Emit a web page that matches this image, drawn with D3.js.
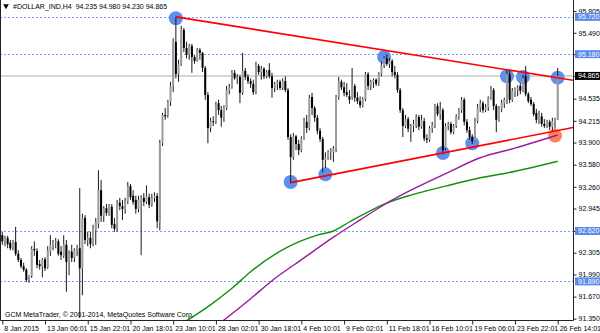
<!DOCTYPE html>
<html>
<head>
<meta charset="utf-8">
<script src="https://cdn.jsdelivr.net/npm/d3@7"></script>
<style>
  html, body { margin: 0; padding: 0; background: #fff; }
  #chart { width: 600px; height: 333px; }
  text { font-family: 'Liberation Sans', Arial, sans-serif; }
</style>
</head>
<body>
<div id="chart"></div>
<script>
'use strict';

const symbolTitle = '#DOLLAR_IND,H4  94.235 94.980 94.230 94.865';
const copyright = 'GCM MetaTrader, \u00a9 2001-2014, MetaQuotes Software Corp.';

// one label every 16 bars
const timeLabels = ['8 Jan 2015', '13 Jan 06:01', '15 Jan 22:01', '20 Jan 18:01',
  '23 Jan 10:01', '28 Jan 02:01', '30 Jan 18:01', '4 Feb 10:01', '9 Feb 02:01',
  '11 Feb 18:01', '16 Feb 10:01', '19 Feb 06:01', '23 Feb 22:01', '26 Feb 14:01'];
const labelStep = 16;

const priceTicks = [95.805, 95.490, 95.180, 94.865, 94.535, 94.215, 93.900, 93.580,
  93.260, 92.945, 92.620, 92.305, 91.990, 91.670, 91.350];

// open, high, low, close
const ohlc = [
  [92.56, 92.61, 92.42, 92.47], [92.47, 92.55, 92.40, 92.52], [92.52, 92.55, 92.37, 92.43],
  [92.45, 92.49, 92.34, 92.37], [92.37, 92.49, 92.34, 92.46], [92.46, 92.68, 92.26, 92.29],
  [92.29, 92.34, 92.17, 92.20], [92.20, 92.23, 92.08, 92.11], [92.11, 92.16, 92.03, 92.06],
  [92.06, 92.08, 91.88, 91.91], [91.91, 91.98, 91.87, 91.97], [91.97, 92.40, 91.94, 92.36],
  [92.36, 92.47, 92.26, 92.34], [92.33, 92.37, 92.08, 92.13], [92.14, 92.20, 92.06, 92.11],
  [92.11, 92.23, 91.95, 92.21], [92.21, 92.24, 92.04, 92.08], [92.09, 92.40, 92.07, 92.34],
  [92.32, 92.56, 92.26, 92.42], [92.42, 92.49, 92.34, 92.46], [92.45, 92.52, 92.37, 92.47],
  [92.47, 92.50, 92.26, 92.29], [92.32, 92.40, 92.20, 92.27], [92.26, 92.56, 92.23, 92.43],
  [92.42, 92.49, 91.74, 92.17], [92.17, 92.34, 91.98, 92.29], [92.32, 92.42, 92.17, 92.23],
  [92.23, 92.37, 92.17, 92.34], [92.34, 92.42, 92.26, 92.37], [92.37, 93.24, 91.36, 92.08],
  [92.08, 92.87, 91.69, 92.81], [92.81, 92.85, 92.43, 92.49], [92.49, 92.61, 92.40, 92.52],
  [92.52, 92.61, 92.37, 92.43], [92.43, 92.71, 92.40, 92.66], [92.63, 92.81, 92.42, 92.75],
  [92.72, 93.50, 92.66, 93.21], [93.21, 93.36, 92.75, 92.84], [92.84, 92.98, 92.75, 92.95],
  [92.95, 93.01, 92.84, 92.88], [92.88, 93.01, 92.84, 92.98], [92.97, 93.01, 92.66, 92.71],
  [92.72, 92.81, 92.61, 92.65], [92.66, 93.07, 92.61, 93.03], [93.03, 93.10, 92.92, 92.98],
  [92.98, 93.07, 92.78, 92.94], [92.94, 93.10, 92.87, 93.05], [93.05, 93.33, 93.01, 93.27],
  [93.27, 93.30, 93.07, 93.11], [93.13, 93.21, 93.00, 93.04], [93.07, 93.13, 92.87, 92.94],
  [92.94, 93.13, 92.89, 93.07], [93.03, 93.14, 92.27, 93.10], [93.10, 93.17, 92.98, 93.04],
  [93.04, 93.28, 93.01, 93.13], [93.11, 93.16, 92.95, 93.00], [93.00, 93.16, 92.97, 93.10],
  [93.10, 93.18, 93.04, 93.13], [93.13, 93.17, 92.66, 92.76], [92.75, 93.94, 92.63, 93.89],
  [93.89, 94.33, 93.85, 94.30], [94.30, 94.40, 94.23, 94.28], [94.30, 94.52, 94.26, 94.49],
  [94.49, 94.78, 94.43, 94.72], [94.72, 95.41, 94.63, 95.36], [95.36, 95.72, 94.83, 94.89],
  [94.89, 95.10, 94.78, 95.04], [95.04, 95.59, 95.01, 95.53], [95.53, 95.56, 95.21, 95.27],
  [95.27, 95.36, 95.12, 95.17], [95.17, 95.33, 95.10, 95.30], [95.30, 95.33, 94.91, 95.14],
  [95.14, 95.17, 95.04, 95.08], [95.08, 95.27, 95.07, 95.24], [95.24, 95.27, 95.10, 95.20],
  [95.20, 95.21, 94.92, 94.98], [94.98, 95.01, 94.52, 94.59], [94.59, 94.63, 93.89, 94.11],
  [94.11, 94.26, 94.05, 94.21], [94.21, 94.28, 94.14, 94.20], [94.20, 94.49, 94.17, 94.44],
  [94.47, 94.52, 94.30, 94.37], [94.37, 94.43, 94.13, 94.26], [94.26, 94.44, 94.20, 94.40],
  [94.40, 94.72, 94.37, 94.66], [94.66, 94.75, 94.60, 94.70], [94.70, 94.95, 94.68, 94.91],
  [94.91, 94.95, 94.81, 94.83], [94.83, 94.89, 94.75, 94.85], [94.85, 94.88, 94.47, 94.62],
  [94.62, 95.20, 94.59, 94.94], [94.94, 94.98, 94.81, 94.85], [94.85, 94.89, 94.75, 94.79],
  [94.79, 94.83, 94.69, 94.75], [94.75, 94.81, 94.59, 94.63], [94.63, 95.07, 94.60, 95.01],
  [95.01, 95.04, 94.88, 94.92], [94.92, 95.01, 94.81, 94.97], [94.97, 94.99, 94.82, 94.86],
  [94.86, 94.95, 94.83, 94.92], [94.95, 95.05, 94.83, 94.86], [94.86, 94.91, 94.55, 94.69],
  [94.69, 94.78, 94.63, 94.75], [94.75, 94.81, 94.66, 94.78], [94.78, 94.81, 94.66, 94.69],
  [94.69, 94.83, 94.66, 94.79], [94.79, 94.86, 94.63, 94.66], [94.66, 94.69, 93.94, 93.98],
  [93.98, 94.02, 93.31, 93.69], [93.69, 94.04, 93.65, 93.99], [93.99, 94.01, 93.79, 93.88],
  [93.88, 93.94, 93.72, 93.79], [93.79, 93.99, 93.76, 93.96], [93.96, 94.26, 93.94, 94.20],
  [94.20, 94.30, 94.04, 94.11], [94.11, 94.59, 94.08, 94.55], [94.56, 94.62, 94.30, 94.40],
  [94.40, 94.43, 94.20, 94.26], [94.26, 94.30, 94.02, 94.07], [94.07, 94.11, 93.91, 93.95],
  [93.95, 93.98, 93.47, 93.65], [93.65, 93.76, 93.53, 93.69], [93.69, 93.79, 93.65, 93.76],
  [93.76, 93.82, 93.65, 93.79], [93.76, 93.85, 93.62, 93.81], [93.79, 94.59, 93.76, 94.56],
  [94.56, 94.85, 94.52, 94.78], [94.78, 94.81, 94.66, 94.70], [94.70, 94.78, 94.57, 94.62],
  [94.63, 94.76, 94.56, 94.59], [94.57, 94.66, 94.46, 94.52], [94.55, 94.98, 94.52, 94.73],
  [94.72, 94.75, 94.49, 94.55], [94.55, 94.63, 94.46, 94.50], [94.50, 94.57, 94.40, 94.44],
  [94.44, 94.56, 94.41, 94.53], [94.53, 94.92, 94.50, 94.89], [94.89, 94.92, 94.66, 94.72],
  [94.72, 94.81, 94.66, 94.78], [94.78, 94.83, 94.69, 94.81], [94.81, 94.83, 94.72, 94.75],
  [94.75, 94.92, 94.72, 94.89], [94.89, 95.07, 94.86, 95.02], [95.02, 95.15, 94.98, 95.12],
  [95.12, 95.18, 95.01, 95.04], [95.04, 95.12, 94.98, 95.08], [95.08, 95.11, 94.86, 94.92],
  [94.92, 95.01, 94.83, 94.88], [94.88, 94.92, 94.62, 94.66], [94.66, 94.69, 94.33, 94.37],
  [94.37, 94.40, 93.98, 94.14], [94.14, 94.30, 94.11, 94.24], [94.24, 94.27, 94.05, 94.10],
  [94.10, 94.17, 93.91, 94.14], [94.14, 94.23, 94.05, 94.17], [94.15, 94.31, 94.11, 94.27],
  [94.27, 94.30, 94.08, 94.13], [94.13, 94.30, 94.10, 94.23], [94.21, 94.26, 93.92, 93.96],
  [93.96, 94.02, 93.89, 93.94], [93.94, 94.14, 93.91, 94.11], [94.11, 94.20, 94.04, 94.15],
  [94.14, 94.46, 94.11, 94.43], [94.43, 94.47, 94.28, 94.31], [94.31, 94.49, 94.23, 94.37],
  [94.37, 94.40, 93.73, 93.79], [93.82, 94.18, 93.79, 94.14], [94.14, 94.20, 94.08, 94.17],
  [94.17, 94.20, 94.02, 94.05], [94.05, 94.17, 94.02, 94.14], [94.14, 94.31, 94.11, 94.28],
  [94.28, 94.40, 94.23, 94.37], [94.37, 94.56, 94.33, 94.52], [94.52, 94.55, 94.15, 94.20],
  [94.20, 94.24, 94.04, 94.08], [94.08, 94.13, 93.94, 93.98], [93.98, 94.02, 93.88, 93.92],
  [93.92, 94.26, 93.91, 94.21], [94.21, 94.46, 94.18, 94.41], [94.41, 94.52, 94.34, 94.47],
  [94.47, 94.50, 94.33, 94.37], [94.37, 94.46, 94.34, 94.41], [94.41, 94.57, 94.36, 94.55],
  [94.55, 94.72, 94.52, 94.66], [94.66, 94.69, 94.37, 94.43], [94.43, 94.46, 94.05, 94.23],
  [94.23, 94.43, 94.20, 94.39], [94.39, 94.52, 94.34, 94.47], [94.47, 94.55, 94.40, 94.52],
  [94.52, 94.95, 94.46, 94.89], [94.89, 94.95, 94.47, 94.52], [94.52, 94.69, 94.49, 94.65],
  [94.63, 94.70, 94.56, 94.68], [94.66, 94.73, 94.57, 94.70], [94.72, 94.76, 94.60, 94.65],
  [94.65, 94.88, 94.63, 94.83], [94.86, 95.01, 94.57, 94.60], [94.60, 94.63, 94.47, 94.50],
  [94.52, 94.56, 94.43, 94.46], [94.46, 94.49, 94.28, 94.31], [94.33, 94.39, 94.18, 94.23],
  [94.23, 94.36, 94.17, 94.31], [94.28, 94.33, 94.13, 94.17], [94.17, 94.24, 94.11, 94.14],
  [94.14, 94.23, 94.11, 94.20], [94.20, 94.23, 94.08, 94.13], [94.13, 94.26, 94.07, 94.21],
  [94.20, 94.26, 94.10, 94.23], [94.235, 94.98, 94.23, 94.865]
];

// dotted horizontal levels and the last bid
const levelLines = [95.720, 95.180, 92.620, 91.890];
const lastPrice = 94.865;

// moving averages: [bar, value]
const maPurple = [[80, 91.24], [93, 91.64], [101, 91.90], [113, 92.23], [124, 92.53],
  [134, 92.78], [143, 93.00], [153, 93.21], [166, 93.45], [179, 93.68], [192, 93.82], [208, 94.01]];
const maGreen = [[67, 91.27], [79, 91.58], [86, 91.79], [93, 92.03], [107, 92.39], [118, 92.56],
  [124, 92.62], [130, 92.75], [143, 93.01], [153, 93.14], [166, 93.27], [179, 93.39],
  [189, 93.46], [208, 93.63]];

// triangle sides: [bar, price] pairs
const upperTrend = [[65, 95.72], [214, 94.80]];
const lowerTrend = [[108, 93.32], [214, 94.12]];

const touchBlue = [[65, 95.70], [143, 95.14], [189, 94.86], [195, 94.85], [208, 94.84],
  [108, 93.33], [121, 93.44], [165, 93.75], [176, 93.89]];
const touchOrange = [[207, 94.00]];

class CandleChart {
  constructor(options) {
    this.element = options.element;
    this.width = options.width;
    this.height = options.height;
    this.plotRight = options.plotRight;
    this.plotBottom = options.plotBottom;
    this.fontSize = 7;
  }

  draw() {
    this.svg = d3.select(this.element).append('svg')
      .attr('width', this.width)
      .attr('height', this.height)
      .style('display', 'block');
    this.createScales();
    this.svg.append('defs').append('clipPath')
      .attr('id', 'plot-clip')
      .append('rect')
        .attr('width', this.plotRight)
        .attr('height', this.plotBottom);
    this.plot = this.svg.append('g')
      .attr('clip-path', 'url(#plot-clip)');
    this.drawLevels();
    this.drawMarkers();
    this.drawAverages();
    this.drawCandles();
    this.drawTrendLines();
    this.drawFrame();
    this.drawXAxis();
    this.drawYAxis();
    this.drawPriceTags();
    this.drawTexts();
  }

  createScales() {
    this.xScale = d3.scaleLinear()
      .domain([0, ohlc.length - 1])
      .range([2.3, 557.7]);
    this.yScale = d3.scaleLinear()
      .domain([91.35, 95.805])
      .range([318.7, 11]);
  }

  drawLevels() {
    this.plot.selectAll('.level')
      .data(levelLines)
      .enter().append('line')
        .attr('class', 'level')
        .attr('x1', 0)
        .attr('x2', this.plotRight)
        .attr('y1', (d) => Math.round(this.yScale(d)) + 0.5)
        .attr('y2', (d) => Math.round(this.yScale(d)) + 0.5)
        .attr('stroke', '#7d9bf0')
        .attr('stroke-dasharray', '2,2');

    this.plot.append('line')
      .attr('x1', 0)
      .attr('x2', this.plotRight)
      .attr('y1', this.yScale(lastPrice))
      .attr('y2', this.yScale(lastPrice))
      .attr('stroke', '#c8c8c8')
      .attr('stroke-width', 1.5);
  }

  drawMarkers() {
    const dots = (data, color) => {
      this.plot.append('g').selectAll('circle')
        .data(data)
        .enter().append('circle')
          .attr('cx', (d) => this.xScale(d[0]))
          .attr('cy', (d) => this.yScale(d[1]))
          .attr('r', 7)
          .attr('fill', color);
    };
    dots(touchBlue, '#5f8fec');
    dots(touchOrange, '#f8845a');
  }

  drawAverages() {
    const line = d3.line()
      .x((d) => this.xScale(d[0]))
      .y((d) => this.yScale(d[1]))
      .curve(d3.curveMonotoneX);
    this.plot.append('path')
      .attr('d', line(maGreen))
      .attr('fill', 'none')
      .attr('stroke', '#109010')
      .attr('stroke-width', 1.4);
    this.plot.append('path')
      .attr('d', line(maPurple))
      .attr('fill', 'none')
      .attr('stroke', '#9a1aa0')
      .attr('stroke-width', 1.4);
  }

  drawCandles() {
    const bars = this.plot.append('g').selectAll('g')
      .data(ohlc)
      .enter().append('g');

    bars.append('line')
      .attr('x1', (d, i) => this.xScale(i))
      .attr('x2', (d, i) => this.xScale(i))
      .attr('y1', (d) => this.yScale(d[1]))
      .attr('y2', (d) => this.yScale(d[2]))
      .attr('stroke', '#1a1a1a')
      .attr('stroke-width', 1);

    bars.append('rect')
      .attr('x', (d, i) => this.xScale(i) - 1)
      .attr('width', 2)
      .attr('y', (d) => this.yScale(Math.max(d[0], d[3])))
      .attr('height', (d) => Math.max(1, Math.abs(this.yScale(d[0]) - this.yScale(d[3]))))
      .attr('fill', (d) => d[3] >= d[0] ? '#9c9c9c' : '#000');
  }

  drawTrendLines() {
    [upperTrend, lowerTrend].forEach((t) => {
      this.plot.append('line')
        .attr('x1', this.xScale(t[0][0]))
        .attr('y1', this.yScale(t[0][1]))
        .attr('x2', this.xScale(t[1][0]))
        .attr('y2', this.yScale(t[1][1]))
        .attr('stroke', '#ff0000')
        .attr('stroke-width', 1.6);
    });
  }

  drawFrame() {
    this.svg.append('path')
      .attr('d', `M0.5,0V${this.plotBottom + 0.5}H${this.plotRight + 0.5}V0`)
      .attr('stroke', '#222')
      .attr('fill', 'none');
  }

  drawXAxis() {
    const ticks = timeLabels.map((d, i) => i * labelStep);
    const axis = this.svg.append('g')
      .attr('transform', `translate(0, ${this.plotBottom + 0.5})`)
      .call(d3.axisBottom(this.xScale)
        .tickValues(ticks)
        .tickFormat((d, i) => timeLabels[i])
        .tickSize(4)
        .tickSizeOuter(0));
    axis.select('.domain').remove();
    axis.selectAll('line').attr('stroke', '#222');
    axis.selectAll('text')
      .attr('text-anchor', 'start')
      .attr('x', 1.5)
      .attr('y', 10)
      .attr('dy', 0)
      .attr('fill', '#000')
      .style('font-size', this.fontSize + 'px')
      .style('font-family', "'Liberation Sans', Arial, sans-serif");
  }

  drawYAxis() {
    const axis = this.svg.append('g')
      .attr('transform', `translate(${this.plotRight + 0.5}, 0)`)
      .call(d3.axisRight(this.yScale)
        .tickValues(priceTicks)
        .tickFormat(d3.format('.3f'))
        .tickSize(3)
        .tickPadding(2)
        .tickSizeOuter(0));
    axis.select('.domain').remove();
    axis.selectAll('line').attr('stroke', '#222');
    axis.selectAll('text')
      .attr('fill', '#000')
      .style('font-size', this.fontSize + 'px')
      .style('font-family', "'Liberation Sans', Arial, sans-serif");
  }

  drawPriceTags() {
    const tags = levelLines.map((v) => ({ value: v, fill: '#5c8ae8' }))
      .concat([{ value: lastPrice, fill: '#000' }]);
    const g = this.svg.append('g').selectAll('g')
      .data(tags)
      .enter().append('g')
        .attr('transform', (d) => `translate(${this.plotRight + 2}, ${this.yScale(d.value)})`);
    g.append('rect')
      .attr('x', 0)
      .attr('y', -4)
      .attr('width', 26)
      .attr('height', 8)
      .attr('fill', (d) => d.fill);
    g.append('text')
      .attr('x', 3)
      .attr('y', 2.5)
      .attr('fill', '#fff')
      .style('font-size', this.fontSize + 'px')
      .text((d) => d3.format('.3f')(d.value));
  }

  drawTexts() {
    this.svg.append('path')
      .attr('d', d3.symbol(d3.symbolTriangle, 14)())
      .attr('transform', 'translate(6, 6) rotate(180)')
      .attr('fill', '#000');
    this.svg.append('text')
      .attr('x', 13)
      .attr('y', 9)
      .attr('fill', '#000')
      .style('font-size', this.fontSize + 'px')
      .style('white-space', 'pre')
      .text(symbolTitle);
    this.svg.append('text')
      .attr('x', 5)
      .attr('y', 317)
      .attr('fill', '#000')
      .style('font-size', this.fontSize + 'px')
      .text(copyright);
  }
}

const chart = new CandleChart({
  element: document.getElementById('chart'),
  width: 600,
  height: 333,
  plotRight: 573,
  plotBottom: 320
});
chart.draw();
</script>
</body>
</html>
